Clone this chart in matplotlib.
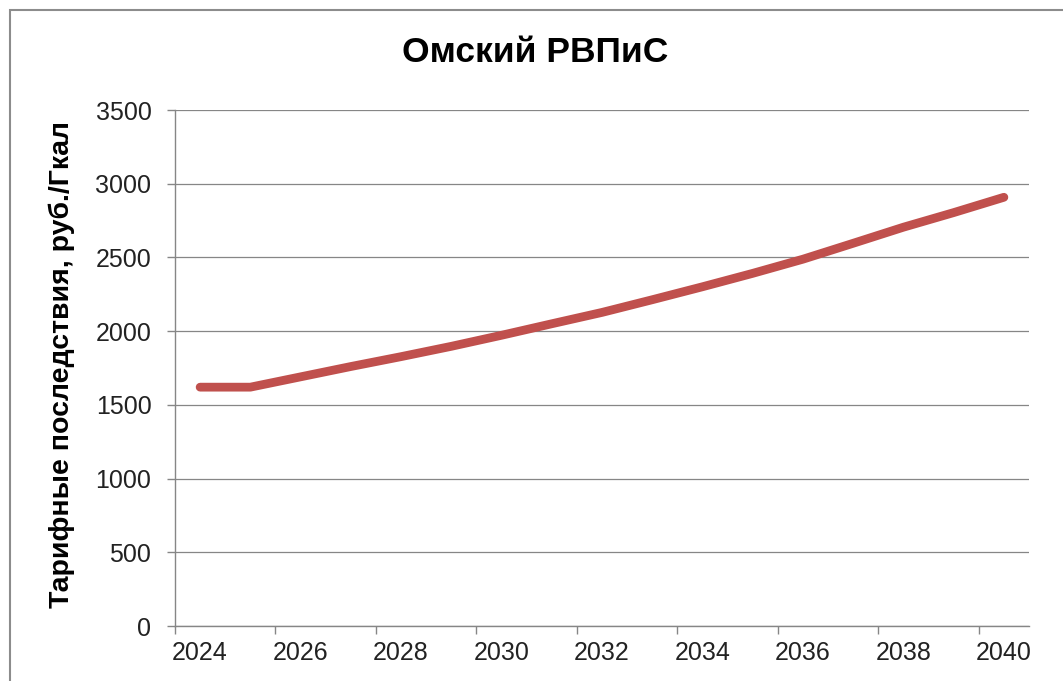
import numpy as np
import matplotlib.pyplot as plt
from matplotlib.patches import Rectangle

years = list(range(2024, 2041))
tariff = [1620, 1620, 1690, 1760, 1827, 1897, 1972, 2050, 2127,
          2213, 2301, 2392, 2488, 2596, 2705, 2804, 2908]
yticks = [0, 500, 1000, 1500, 2000, 2500, 3000, 3500]

plt.rcParams['font.family'] = ['Liberation Sans', 'DejaVu Sans']

fig = plt.figure(figsize=(10.63, 6.81), dpi=100)
ax = fig.add_axes([175/1063, 1 - 626/681, (1029 - 175)/1063, (626 - 110)/681])

x = np.arange(len(years))
ax.plot(x, tariff, color='#C0504D', lw=6.3, solid_capstyle='round',
        solid_joinstyle='round')

grey = '#868686'
ax.set_xlim(-0.5, len(years) - 0.5)
ax.set_ylim(0, 3500)
ax.set_yticks(yticks)
ax.yaxis.grid(True, color=grey, lw=0.9)
ax.set_axisbelow(True)

# labels every 2nd year, tick marks between categories
ax.set_xticks(x[::2])
ax.set_xticklabels([str(y) for y in years[::2]])
ax.set_xticks(np.arange(-0.5, len(years) - 1, 2), minor=True)
ax.tick_params(axis='x', which='major', length=0, pad=11,
               labelsize=18, labelcolor='#222222')
ax.tick_params(axis='x', which='minor', length=6, width=1, color=grey)
ax.tick_params(axis='y', length=6, width=1, color=grey, pad=11,
               labelsize=18, labelcolor='#222222')

for s in ['top', 'right']:
    ax.spines[s].set_visible(False)
for s in ['left', 'bottom']:
    ax.spines[s].set_color(grey)
    ax.spines[s].set_linewidth(1)

fig.text(0.503, 1 - 53/681, 'Омский РВПиС', ha='center', va='center',
         fontsize=25.5, fontweight='bold')
fig.text(62/1063, 1 - 365/681, 'Тарифные последствия, руб./Гкал',
         rotation=90, ha='center', va='center', fontsize=20.5,
         fontweight='bold')

fig.patches.append(Rectangle((9.5/1063, -0.1), 1.2, 1.1 - 10/681,
                             transform=fig.transFigure, fill=False,
                             edgecolor='#8c8c8c', lw=1.5))

fig.savefig('out.png', dpi=100)
